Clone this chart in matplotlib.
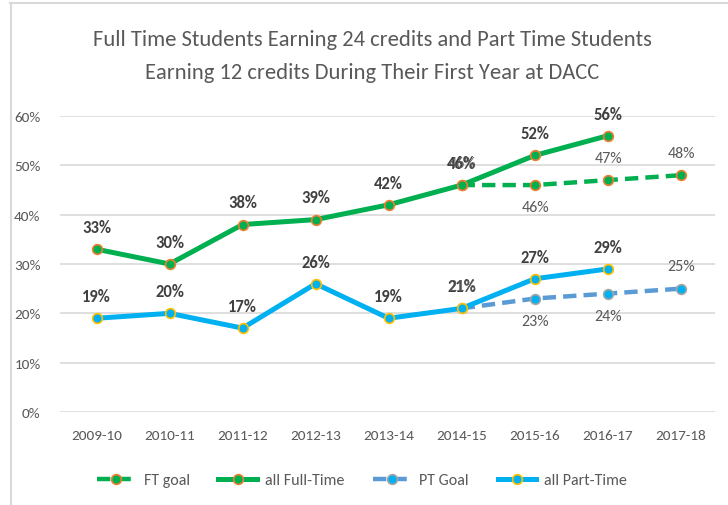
import matplotlib
matplotlib.use("Agg")
import matplotlib.pyplot as plt
from matplotlib.lines import Line2D
import numpy as np

years = ["2009-10", "2010-11", "2011-12", "2012-13", "2013-14",
         "2014-15", "2015-16", "2016-17", "2017-18"]
ft_all = [33, 30, 38, 39, 42, 46, 52, 56]
pt_all = [19, 20, 17, 26, 19, 21, 27, 29]
goal_years = ["2014-15", "2015-16", "2016-17", "2017-18"]
ft_goal = [46, 46, 47, 48]
pt_goal = [21, 23, 24, 25]
# label placement for goal series: +1 above, -1 below
ft_goal_pos = [1, -1, 1, 1]
pt_goal_pos = [1, -1, -1, 1]

GREEN = "#00B050"
BLUE = "#00B0F0"
STEEL = "#5B9BD5"
ORANGE = "#ED7D31"
GOLD = "#FFC000"
GRID = "#D9D9D9"
TXT = "#595959"
LBL = "#404040"

plt.rcParams["font.family"] = ["Carlito", "DejaVu Sans"]

fig = plt.figure(figsize=(7.28, 5.06), dpi=100)
ax = fig.add_axes([60 / 728, 1 - 413 / 506, 655 / 728, 296 / 506])

xi = {y: i for i, y in enumerate(years)}
x_all = np.arange(len(ft_all))
x_goal = np.array([xi[y] for y in goal_years])

ax.plot(x_goal, ft_goal, color=GREEN, lw=3.2, ls=(0, (3, 1.6)), marker="o", ms=7,
        mfc=GREEN, mec=ORANGE, mew=1.2, zorder=3, label="FT goal")
ax.plot(x_all, ft_all, color=GREEN, lw=3.6, marker="o", ms=7,
        mfc=GREEN, mec=ORANGE, mew=1.2, zorder=4, label="all Full-Time")
ax.plot(x_goal, pt_goal, color=STEEL, lw=3.2, ls=(0, (3, 1.6)), marker="o", ms=7,
        mfc=BLUE, mec="#A5A5A5", mew=1.2, zorder=3, label="PT Goal")
ax.plot(x_all, pt_all, color=BLUE, lw=3.6, marker="o", ms=7,
        mfc=BLUE, mec=GOLD, mew=1.2, zorder=4, label="all Part-Time")

for xs, vals in [(x_all, ft_all), (x_all, pt_all)]:
    for x, v in zip(xs, vals):
        ax.annotate(f"{v}%", (x, v), xytext=(0, 16), textcoords="offset points",
                    ha="center", va="center", fontsize=12, fontweight="bold", color=LBL)

# goal labels; at 2014-15 they sit on top of the actual-value labels, as in the source
for vals, pos in [(ft_goal, ft_goal_pos), (pt_goal, pt_goal_pos)]:
    for x, v, p in zip(x_goal, vals, pos):
        ax.annotate(f"{v}%", (x, v), xytext=(0.6, 16 * p), textcoords="offset points",
                    ha="center", va="center", fontsize=11.5, color=TXT)

ax.set_xlim(-0.5, 8.47)
ax.set_ylim(0, 60)
ax.set_yticks(np.arange(0, 61, 10))
ax.set_yticklabels([f"{v}%" for v in range(0, 61, 10)])
ax.set_xticks(np.arange(len(years)))
ax.set_xticklabels(years)
ax.tick_params(length=0, labelsize=11, colors=TXT, pad=12)
ax.tick_params(axis="y", pad=14)
ax.yaxis.grid(True, color=GRID, lw=1.2)
ax.set_axisbelow(True)
for s in ax.spines.values():
    s.set_visible(False)

fig.text(372 / 728, 1 - 40 / 506, "Full Time Students Earning 24 credits and Part Time Students",
         ha="center", va="center", fontsize=16.2, color=TXT)
fig.text(372 / 728, 1 - 73 / 506, "Earning 12 credits During Their First Year at DACC",
         ha="center", va="center", fontsize=16.2, color=TXT)

fig.legend(loc="center", bbox_to_anchor=(362 / 728, 1 - 481 / 506), ncol=4, frameon=False,
           fontsize=11.5, labelcolor=TXT, handlelength=2.4, columnspacing=1.8,
           handletextpad=0.5)

fig.add_artist(Line2D([10 / 728, 1], [1 - 4 / 506, 1 - 4 / 506], color=GRID, lw=1.5))
fig.add_artist(Line2D([11 / 728, 11 / 728], [0, 1 - 4 / 506], color=GRID, lw=1.5))

fig.savefig("out.png", dpi=100)
